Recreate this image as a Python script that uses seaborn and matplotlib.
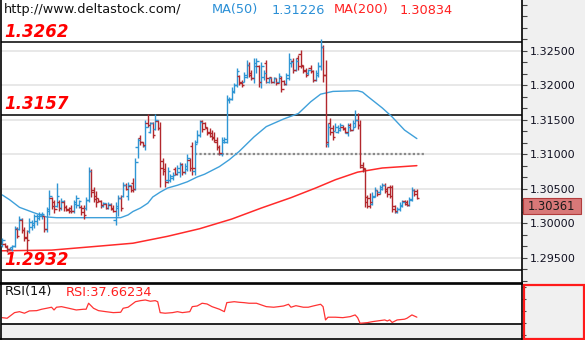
import numpy as np
import matplotlib
matplotlib.use("Agg")
import matplotlib.pyplot as plt
import matplotlib.transforms as mtransforms
from matplotlib.patches import Rectangle
from matplotlib.ticker import FixedLocator, MultipleLocator, FormatStrFormatter
import seaborn as sns

# ---------------- data ----------------
opens = [1.2968, 1.2970, 1.2966, 1.2963, 1.2962, 1.2967, 1.2992, 1.2992, 1.3004, 1.2990,
         1.2980, 1.2988, 1.2995, 1.2998, 1.3003, 1.3008, 1.3010, 1.3010, 1.2992, 1.3018,
         1.3036, 1.3030, 1.3025, 1.3030, 1.3022, 1.3030, 1.3024, 1.3020, 1.3022, 1.3018,
         1.3028, 1.3026, 1.3024, 1.3022, 1.3022, 1.3034, 1.3075, 1.3048, 1.3040, 1.3036,
         1.3032, 1.3025, 1.3028, 1.3022, 1.3027, 1.3022, 1.3005, 1.3022, 1.3036, 1.3040,
         1.3055, 1.3040, 1.3054, 1.3058, 1.3050, 1.3110, 1.3124, 1.3118, 1.3112, 1.3145,
         1.3132, 1.3145, 1.3136, 1.3148, 1.3138, 1.3090, 1.3078, 1.3062, 1.3063, 1.3065,
         1.3078, 1.3072, 1.3074, 1.3086, 1.3074, 1.3078, 1.3092, 1.3112, 1.3075, 1.3118,
         1.3128, 1.3148, 1.3145, 1.3138, 1.3132, 1.3130, 1.3125, 1.3118, 1.3110, 1.3100,
         1.3118, 1.3118, 1.3178, 1.3180, 1.3190, 1.3200, 1.3213, 1.3205, 1.3205, 1.3212,
         1.3230, 1.3218, 1.3210, 1.3228, 1.3228, 1.3205, 1.3212, 1.3232, 1.3205, 1.3212,
         1.3205, 1.3210, 1.3205, 1.3210, 1.3206, 1.3202, 1.3210, 1.3232, 1.3235, 1.3222,
         1.3240, 1.3245, 1.3228, 1.3222, 1.3217, 1.3225, 1.3220, 1.3208, 1.3215, 1.3228,
         1.3255, 1.3215, 1.3115, 1.3145, 1.3138, 1.3133, 1.3132, 1.3135, 1.3140, 1.3138,
         1.3130, 1.3142, 1.3135, 1.3140, 1.3150, 1.3142, 1.3082, 1.3080, 1.3038, 1.3036,
         1.3028, 1.3038, 1.3048, 1.3045, 1.3050, 1.3056, 1.3050, 1.3052, 1.3052, 1.3025,
         1.3016, 1.3020, 1.3025, 1.3032, 1.3030, 1.3027, 1.3033, 1.3048, 1.3046]
highs = [1.2979, 1.2972, 1.2969, 1.2966, 1.2969, 1.2996, 1.2994, 1.3011, 1.3007, 1.2994,
         1.2990, 1.3007, 1.3004, 1.3014, 1.3013, 1.3016, 1.3016, 1.3011, 1.3023, 1.3048,
         1.3038, 1.3034, 1.3058, 1.3034, 1.3037, 1.3034, 1.3026, 1.3024, 1.3026, 1.3034,
         1.3041, 1.3034, 1.3026, 1.3026, 1.3038, 1.3082, 1.3078, 1.3052, 1.3046, 1.3037,
         1.3034, 1.3031, 1.3029, 1.3030, 1.3029, 1.3026, 1.3030, 1.3041, 1.3041, 1.3060,
         1.3058, 1.3060, 1.3055, 1.3065, 1.3094, 1.3124, 1.3128, 1.3118, 1.3150, 1.3158,
         1.3147, 1.3147, 1.3158, 1.3150, 1.3147, 1.3095, 1.3087, 1.3081, 1.3072, 1.3074,
         1.3082, 1.3084, 1.3089, 1.3087, 1.3087, 1.3101, 1.3094, 1.3118, 1.3120, 1.3135,
         1.3150, 1.3150, 1.3147, 1.3139, 1.3138, 1.3135, 1.3132, 1.3125, 1.3113, 1.3125,
         1.3125, 1.3186, 1.3183, 1.3197, 1.3203, 1.3225, 1.3215, 1.3208, 1.3219, 1.3237,
         1.3233, 1.3222, 1.3240, 1.3240, 1.3229, 1.3233, 1.3222, 1.3237, 1.3212, 1.3212,
         1.3212, 1.3211, 1.3218, 1.3213, 1.3208, 1.3218, 1.3246, 1.3236, 1.3240, 1.3240,
         1.3244, 1.3251, 1.3230, 1.3225, 1.3224, 1.3230, 1.3222, 1.3222, 1.3233, 1.3267,
         1.3258, 1.3236, 1.3145, 1.3152, 1.3142, 1.3145, 1.3142, 1.3145, 1.3142, 1.3139,
         1.3145, 1.3145, 1.3150, 1.3164, 1.3159, 1.3150, 1.3089, 1.3080, 1.3041, 1.3044,
         1.3045, 1.3052, 1.3048, 1.3055, 1.3058, 1.3058, 1.3052, 1.3055, 1.3055, 1.3026,
         1.3024, 1.3030, 1.3033, 1.3033, 1.3033, 1.3038, 1.3052, 1.3050, 1.3050]
lows = [1.2965, 1.2965, 1.2958, 1.2962, 1.2960, 1.2965, 1.2978, 1.2990, 1.2986, 1.2974,
        1.2958, 1.2986, 1.2990, 1.2993, 1.2997, 1.3004, 1.3006, 1.2987, 1.2987, 1.3012,
        1.3021, 1.3015, 1.3023, 1.3017, 1.3019, 1.3017, 1.3017, 1.3015, 1.3015, 1.3015,
        1.3022, 1.3022, 1.3012, 1.3006, 1.3019, 1.3030, 1.3038, 1.3030, 1.3024, 1.3030,
        1.3022, 1.3024, 1.3020, 1.3020, 1.3019, 1.3016, 1.2998, 1.3010, 1.3018, 1.3038,
        1.3048, 1.3034, 1.3045, 1.3045, 1.3048, 1.3095, 1.3113, 1.3110, 1.3106, 1.3140,
        1.3130, 1.3124, 1.3135, 1.3135, 1.3053, 1.3070, 1.3053, 1.3058, 1.3060, 1.3062,
        1.3070, 1.3070, 1.3067, 1.3070, 1.3072, 1.3075, 1.3075, 1.3070, 1.3070, 1.3116,
        1.3125, 1.3132, 1.3138, 1.3128, 1.3125, 1.3121, 1.3118, 1.3106, 1.3099, 1.3097,
        1.3116, 1.3116, 1.3174, 1.3178, 1.3188, 1.3198, 1.3200, 1.3197, 1.3204, 1.3210,
        1.3212, 1.3207, 1.3203, 1.3218, 1.3197, 1.3196, 1.3208, 1.3203, 1.3203, 1.3203,
        1.3203, 1.3200, 1.3203, 1.3190, 1.3200, 1.3200, 1.3208, 1.3226, 1.3218, 1.3220,
        1.3222, 1.3225, 1.3218, 1.3212, 1.3215, 1.3217, 1.3204, 1.3206, 1.3212, 1.3222,
        1.3205, 1.3110, 1.3110, 1.3128, 1.3120, 1.3133, 1.3131, 1.3133, 1.3135, 1.3130,
        1.3127, 1.3133, 1.3135, 1.3140, 1.3137, 1.3080, 1.3074, 1.3023, 1.3022, 1.3022,
        1.3027, 1.3038, 1.3040, 1.3043, 1.3048, 1.3044, 1.3038, 1.3036, 1.3016, 1.3015,
        1.3015, 1.3018, 1.3023, 1.3026, 1.3025, 1.3025, 1.3032, 1.3040, 1.3035]
closes = [1.2975, 1.2967, 1.2962, 1.2965, 1.2967, 1.2993, 1.2982, 1.3006, 1.2990, 1.2978,
          1.2975, 1.3002, 1.3000, 1.3010, 1.3010, 1.3013, 1.3014, 1.2992, 1.3020, 1.3040,
          1.3025, 1.3020, 1.3040, 1.3022, 1.3032, 1.3024, 1.3019, 1.3017, 1.3018, 1.3030,
          1.3036, 1.3032, 1.3016, 1.3012, 1.3034, 1.3075, 1.3045, 1.3035, 1.3030, 1.3032,
          1.3026, 1.3029, 1.3022, 1.3028, 1.3021, 1.3018, 1.3025, 1.3036, 1.3022, 1.3055,
          1.3050, 1.3055, 1.3048, 1.3050, 1.3088, 1.3120, 1.3117, 1.3113, 1.3140, 1.3142,
          1.3145, 1.3128, 1.3150, 1.3138, 1.3080, 1.3075, 1.3060, 1.3075, 1.3068, 1.3070,
          1.3072, 1.3080, 1.3084, 1.3074, 1.3083, 1.3095, 1.3080, 1.3080, 1.3115, 1.3128,
          1.3146, 1.3136, 1.3140, 1.3130, 1.3127, 1.3124, 1.3120, 1.3110, 1.3102, 1.3120,
          1.3122, 1.3180, 1.3180, 1.3192, 1.3200, 1.3220, 1.3203, 1.3200, 1.3215, 1.3230,
          1.3215, 1.3210, 1.3232, 1.3235, 1.3205, 1.3228, 1.3218, 1.3210, 1.3210, 1.3205,
          1.3210, 1.3203, 1.3214, 1.3195, 1.3202, 1.3215, 1.3238, 1.3233, 1.3222, 1.3235,
          1.3228, 1.3230, 1.3220, 1.3215, 1.3222, 1.3220, 1.3208, 1.3218, 1.3228, 1.3255,
          1.3215, 1.3118, 1.3140, 1.3132, 1.3125, 1.3140, 1.3138, 1.3142, 1.3137, 1.3132,
          1.3140, 1.3135, 1.3145, 1.3150, 1.3142, 1.3085, 1.3078, 1.3030, 1.3025, 1.3030,
          1.3040, 1.3048, 1.3043, 1.3052, 1.3055, 1.3047, 1.3042, 1.3040, 1.3020, 1.3018,
          1.3020, 1.3026, 1.3030, 1.3028, 1.3027, 1.3035, 1.3048, 1.3042, 1.30361]

ma50_idx = [0, 3, 7, 13, 18, 22, 44, 48, 51, 53, 56, 59, 61, 64, 67, 71, 75, 79, 82, 88,
            92, 96, 102, 107, 114, 120, 125, 129, 134, 144, 146, 148, 154, 158, 163, 168]
ma50_val = [1.3041, 1.3034, 1.3023, 1.3015, 1.3009, 1.3008, 1.3008, 1.3008, 1.3012, 1.3017,
            1.3022, 1.3029, 1.3038, 1.3045, 1.3051, 1.3055, 1.3060, 1.3067, 1.3071, 1.3082,
            1.3092, 1.3104, 1.3125, 1.3140, 1.3151, 1.3159, 1.3176, 1.3187, 1.3191, 1.3192,
            1.3190, 1.3184, 1.3167, 1.3154, 1.3135, 1.31226]

ma200_idx = [0, 20, 40, 53, 67, 80, 93, 105, 117, 127, 135, 144, 154, 168]
ma200_val = [1.2960, 1.2961, 1.2967, 1.2971, 1.2981, 1.2992, 1.3006, 1.3022, 1.3037,
             1.3051, 1.3063, 1.3074, 1.3080, 1.30834]

rsi_idx = [0, 2, 5, 7, 9, 11, 14, 16, 18, 20, 21, 22, 24, 27, 30, 33, 34, 35, 37, 39,
           42, 45, 48, 49, 51, 54, 56, 58, 60, 62, 63, 64, 66, 69, 71, 73, 76, 77, 79, 81,
           83, 85, 88, 90, 91, 94, 96, 98, 100, 103, 105, 107, 110, 112, 114, 116, 117, 119, 122, 124,
           126, 129, 130, 131, 132, 135, 138, 141, 143, 144, 145, 148, 150, 153, 155, 156, 157, 158, 160, 163,
           164, 166, 168]
rsi_val = [37.0, 36.2, 43.8, 45.1, 43.0, 46.1, 46.5, 48.4, 49.7, 51.1, 47.4, 51.1, 51.9, 49.7, 47.4, 48.4, 48.4, 56.5, 49.7, 46.5,
           45.1, 43.8, 44.3, 49.7, 51.1, 58.6, 60.0, 60.9, 59.2, 60.0, 58.6, 43.8, 43.0, 43.8, 45.1, 43.8, 45.1, 51.9, 52.8, 56.5,
           55.5, 51.9, 48.4, 45.1, 57.3, 58.6, 57.8, 57.3, 56.5, 56.5, 54.2, 51.9, 51.1, 51.9, 52.8, 55.1, 51.1, 53.2, 51.1, 51.1,
           52.8, 55.1, 51.9, 33.9, 37.6, 37.6, 37.0, 38.4, 40.7, 37.0, 29.4, 30.3, 31.6, 33.0, 33.9, 32.5, 34.0, 30.5, 33.9, 34.9,
           36.2, 40.7, 37.66234]

levels = [1.3262, 1.3157, 1.2932]
dotted_level = 1.3101
price_ticks = [1.295, 1.300, 1.305, 1.310, 1.315, 1.320, 1.325]
site_text = "http://www.deltastock.com/"

# ---------------- styling ----------------
sns.set_style("white")
plt.rcParams['font.family'] = ['DejaVu Sans']

W, H = 585, 340
BLUE = '#2f96d4'
RED = '#b2282d'
MA_BLUE = '#3fa0da'
MA_RED = '#ff2a2a'
BG = '#f0f0f0'

fig = plt.figure(figsize=(W / 100, H / 100), dpi=100, facecolor=BG)


def rect(x0, y0, x1, y1):
    return [x0 / W, 1 - y1 / H, (x1 - x0) / W, (y1 - y0) / H]


ax = fig.add_axes(rect(0.5, 0, 522, 283))
axr = fig.add_axes(rect(0.5, 283.5, 522, 338.8))

n = len(closes)
idx = np.arange(n)
o = np.array(opens); h = np.array(highs); l = np.array(lows); c = np.array(closes)
cols = np.where(c >= o, BLUE, RED)

XMIN, XMAX = -0.69, 210.6

# main panel
ax.set_facecolor('white')
ax.yaxis.grid(True, which='major', color='#e6e6e6', lw=1.3)
ax.xaxis.grid(False)
ax.set_axisbelow(True)

ax.hlines(dotted_level, 78, 171.7, colors='#8a8a8a', linestyles=(0, (1, 1)), lw=1.6, zorder=1.5)
for lv in levels:
    ax.axhline(lv, color='black', lw=1.1, zorder=1.6)

sns.lineplot(x=ma200_idx, y=ma200_val, ax=ax, color=MA_RED, lw=1.1, zorder=2)
sns.lineplot(x=ma50_idx, y=ma50_val, ax=ax, color=MA_BLUE, lw=1.0, zorder=2)

tick = 1.0
ax.vlines(idx, l, h, colors=cols, lw=1.0, zorder=3)
ax.hlines(o, idx - tick, idx, colors=cols, lw=1.0, zorder=3)
ax.hlines(c, idx, idx + tick, colors=cols, lw=1.0, zorder=3)

ax.set_xlim(XMIN, XMAX)
ax.set_ylim(1.291333, 1.332348)
ax.set_xlabel('')
ax.set_ylabel('')

blend = mtransforms.blended_transform_factory(ax.transAxes, ax.transData)
for lv in levels:
    tr = mtransforms.offset_copy(blend, fig=fig, x=0, y=5.5, units='dots')
    ax.text(0.008, lv, f"{lv:.4f}", transform=tr, fontsize=12, fontweight='bold',
            style='italic', color='#ff0000', va='baseline', ha='left', zorder=5)

ax.yaxis.set_major_locator(FixedLocator(price_ticks))
ax.yaxis.set_major_formatter(FormatStrFormatter('%.5f'))
ax.yaxis.set_minor_locator(MultipleLocator(0.005 / 3))
ax.tick_params(axis='y', which='both', left=False, right=True, labelleft=False,
               labelright=True, direction='out', length=3.6, width=0.8,
               color='#444444', labelsize=8, labelcolor='#111122', pad=2)
ax.tick_params(axis='x', bottom=False, labelbottom=False)
for s in ['left', 'right', 'bottom']:
    ax.spines[s].set_visible(True)
    ax.spines[s].set_color('black')
    ax.spines[s].set_linewidth(1.2)
ax.spines['top'].set_visible(False)

# RSI panel
RSI_LO = 28.5
axr.set_facecolor('white')
axr.axhspan(8.4, RSI_LO, color=BG, lw=0, zorder=0)
axr.axhline(RSI_LO, color='black', lw=1.2, zorder=1)
sns.lineplot(x=rsi_idx, y=rsi_val, ax=axr, color='#ff3333', lw=0.9, zorder=2)
axr.set_xlim(XMIN, XMAX)
axr.set_ylim(8.4, 83.2)
axr.set_xlabel('')
axr.set_ylabel('')
axr.set_xticks([])
axr.set_yticks([13.7, 29.9, 46.1, 62.3, 78.5])
axr.tick_params(axis='y', left=False, right=True, labelleft=False, labelright=False,
                direction='out', length=3, width=0.8, color='#444444')
for s in axr.spines.values():
    s.set_visible(True)
    s.set_color('black')
    s.set_linewidth(1.2)

# red frame around the RSI scale area
fig.add_artist(Rectangle((523.5 / W, 1 - 338.8 / H), 60.5 / W, 54.3 / H,
                         transform=fig.transFigure, fill=False, ec='#ff1a1a', lw=1.6))

# last price box
last = closes[-1]
fig.add_artist(Rectangle((522.5 / W, 1 - 214 / H), 58 / W, 15.7 / H,
                         transform=fig.transFigure, fc='#d87878', ec='#b23c3c', lw=0.8))
fig.text(551.5 / W, 1 - 206.3 / H, f"{last:.5f}", fontsize=8.3, color='#1a1a1a',
         ha='center', va='center')

# header texts


def ftxt(x, yb, s, **kw):
    fig.text(x / W, 1 - yb / H, s, va='baseline', ha='left', fontsize=9.3, **kw)


ftxt(4, 13.5, site_text, color='#111111')
ftxt(212, 13.5, "MA(50)", color='#2a8fd6')
ftxt(272, 13.5, f"{ma50_val[-1]:.5f}", color='#2a8fd6')
ftxt(334, 13.5, "MA(200)", color='#ff2020')
ftxt(400, 13.5, f"{ma200_val[-1]:.5f}", color='#ff2020')
ftxt(4.5, 295.5, "RSI(14)", color='#111111')
ftxt(66, 295.5, f"RSI:{rsi_val[-1]:.5f}", color='#ff2020')

fig.savefig('out.png', dpi=100, facecolor=BG)
